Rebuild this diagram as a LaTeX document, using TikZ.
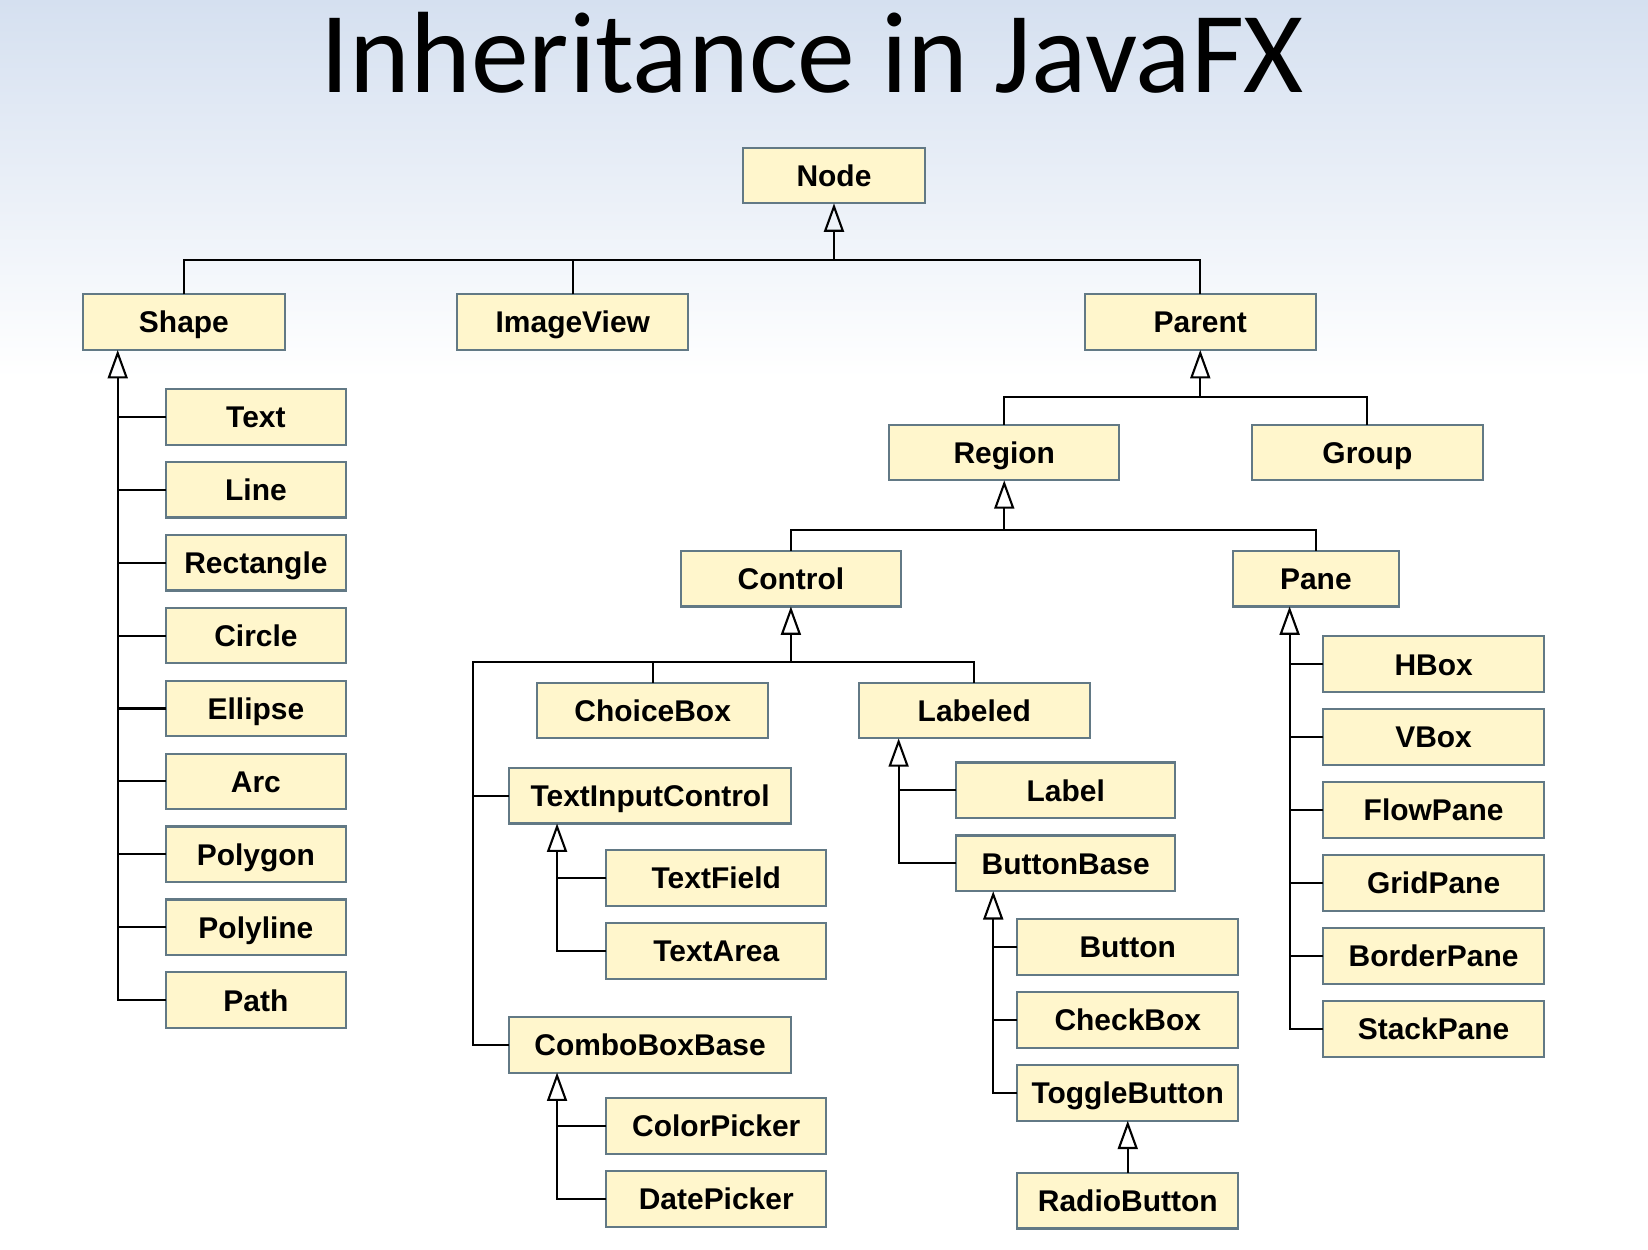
\documentclass[tikz,border=0pt]{standalone}
\usepackage{fontspec}
\setmainfont{Liberation Sans}
\newfontfamily\titlefont{Carlito}
\usetikzlibrary{arrows.meta,positioning}
\definecolor{boxfill}{RGB}{255,246,204}
\definecolor{boxline}{RGB}{98,121,133}
\definecolor{skytop}{RGB}{213,224,240}

\begin{document}
\begin{tikzpicture}[x=1pt,y=-1pt,node distance=16.4pt]
\tikzstyle{cls}=[draw=boxline, fill=boxfill, line width=2pt, inner sep=0pt, outer sep=0pt,
  minimum height=53pt, text height=20.5pt, text depth=0pt,
  font=\fontsize{28.5}{30}\selectfont\bfseries]
\tikzstyle{ln}=[line width=2pt, black]
\tikzstyle{inh}=[ln, -{Triangle[open, length=27pt, width=19pt, line width=2pt]}]
\useasboundingbox (0,0) rectangle (1568,1189);
\fill[white] (0,0) rectangle (1568,1189);
\shade[top color=skytop, bottom color=white] (0,0) rectangle (1568,360);
\node[font=\titlefont\fontsize{110}{120}\selectfont, anchor=base] (title) at (772.5,88) {Inheritance in JavaFX};
% top levels
\node[cls, minimum width=173pt] (nd) at (793.5,167) {Node};
\node[cls, minimum width=192pt] (shp) at (175,306.5) {Shape};
\node[cls, minimum width=220pt] (imv) at (545,306.5) {ImageView};
\node[cls, minimum width=220pt] (par) at (1142,306.5) {Parent};
\node[cls, minimum width=219pt] (reg) at (955.5,430.5) {Region};
\node[cls, minimum width=220pt] (grp) at (1301,430.5) {Group};
\node[cls, minimum width=209pt] (ctl) at (752.5,550.5) {Control};
\node[cls, minimum width=158pt] (pan) at (1252,550.5) {Pane};
% shapes
\node[cls, minimum width=171pt] (txt) at (243.5,396.5) {Text};
\node[cls, minimum width=171pt, below=of txt] (lin) {Line};
\node[cls, minimum width=171pt, below=of lin] (rct) {Rectangle};
\node[cls, minimum width=171pt, below=of rct] (cir) {Circle};
\node[cls, minimum width=171pt, below=of cir] (ell) {Ellipse};
\node[cls, minimum width=171pt, below=of ell] (arc) {Arc};
\node[cls, minimum width=171pt, below=of arc] (pgn) {Polygon};
\node[cls, minimum width=171pt, below=of pgn] (pln) {Polyline};
\node[cls, minimum width=171pt, below=of pln] (pth) {Path};
% controls
\node[cls, minimum width=220pt] (chb) at (621,676) {ChoiceBox};
\node[cls, minimum width=220pt] (lbd) at (927,676) {Labeled};
\node[cls, minimum width=269pt] (tic) at (618.5,757) {TextInputControl};
\node[cls, minimum width=209pt] (tfd) at (681.5,835.5) {TextField};
\node[cls, minimum width=209pt, below=of tfd] (tar) {TextArea};
\node[cls, minimum width=269pt] (cbb) at (618.5,994) {ComboBoxBase};
\node[cls, minimum width=209pt] (cpk) at (681.5,1071.5) {ColorPicker};
\node[cls, minimum width=209pt, below=of cpk] (dpk) {DatePicker};
\node[cls, minimum width=208pt] (lab) at (1014,752) {Label};
\node[cls, minimum width=208pt, below=of lab] (bbs) {ButtonBase};
\node[cls, minimum width=210pt] (btn) at (1073,901) {Button};
\node[cls, minimum width=210pt, below=of btn] (chk) {CheckBox};
\node[cls, minimum width=210pt, below=of chk] (tgb) {ToggleButton};
\node[cls, minimum width=210pt, below=49.5pt of tgb] (rdb) {RadioButton};
% panes
\node[cls, minimum width=210pt] (hbx) at (1364,632) {HBox};
\node[cls, minimum width=210pt, below=of hbx] (vbx) {VBox};
\node[cls, minimum width=210pt, below=of vbx] (flw) {FlowPane};
\node[cls, minimum width=210pt, below=of flw] (grd) {GridPane};
\node[cls, minimum width=210pt, below=of grd] (bdp) {BorderPane};
\node[cls, minimum width=210pt, below=of bdp] (stk) {StackPane};
% connectors
\coordinate (b0) at (793.5,247);
\draw[ln] (shp.north) |- (b0) -| (par.north);
\draw[ln] (imv.north) -- (imv.north |- b0);
\draw[inh] (b0) -- (nd.south);
\coordinate (b1) at ([yshift=-45pt]par.south);
\draw[ln] (reg.north) |- (b1) -| (grp.north);
\draw[inh] (b1) -- (par.south);
\coordinate (b2) at ([yshift=-47pt]reg.south);
\draw[ln] (ctl.north) |- (b2) -| (pan.north);
\draw[inh] (b2) -- (reg.south);
\coordinate (b3) at ([yshift=-53pt]ctl.south);
\coordinate (t3) at ([xshift=-34pt]tic.west);
\draw[ln] (lbd.north) |- (t3 |- b3) |- (cbb.west);
\draw[ln] (chb.north) -- (chb.north |- b3);
\draw[ln] (tic.west) -- (t3);
\draw[inh] (b3) -- (ctl.south);
% shape trunk
\coordinate (t9) at ([xshift=33pt]shp.south west);
\draw[inh] (pth.west) -| (t9);
\foreach \c in {txt,lin,rct,cir,ell,arc,pgn,pln}
  \draw[ln] (\c.west) -- (\c.west -| t9);
% text input / combo box trunks
\coordinate (t4) at ([xshift=46pt]tic.south west);
\draw[inh] (tar.west) -| (t4);
\draw[ln] (tfd.west) -- (tfd.west -| t4);
\coordinate (t5) at ([xshift=46pt]cbb.south west);
\draw[inh] (dpk.west) -| (t5);
\draw[ln] (cpk.west) -- (cpk.west -| t5);
% labeled / button base trunks
\coordinate (t6) at ([xshift=38pt]lbd.south west);
\draw[inh] (bbs.west) -| (t6);
\draw[ln] (lab.west) -- (lab.west -| t6);
\coordinate (t7) at ([xshift=35pt]bbs.south west);
\draw[inh] (tgb.west) -| (t7);
\draw[ln] (btn.west) -- (btn.west -| t7);
\draw[ln] (chk.west) -- (chk.west -| t7);
\draw[inh] (rdb.north) -- (tgb.south);
% pane trunk
\coordinate (t8) at ([xshift=54pt]pan.south west);
\draw[inh] (stk.west) -| (t8);
\foreach \c in {hbx,vbx,flw,grd,bdp}
  \draw[ln] (\c.west) -- (\c.west -| t8);
\end{tikzpicture}
\end{document}
